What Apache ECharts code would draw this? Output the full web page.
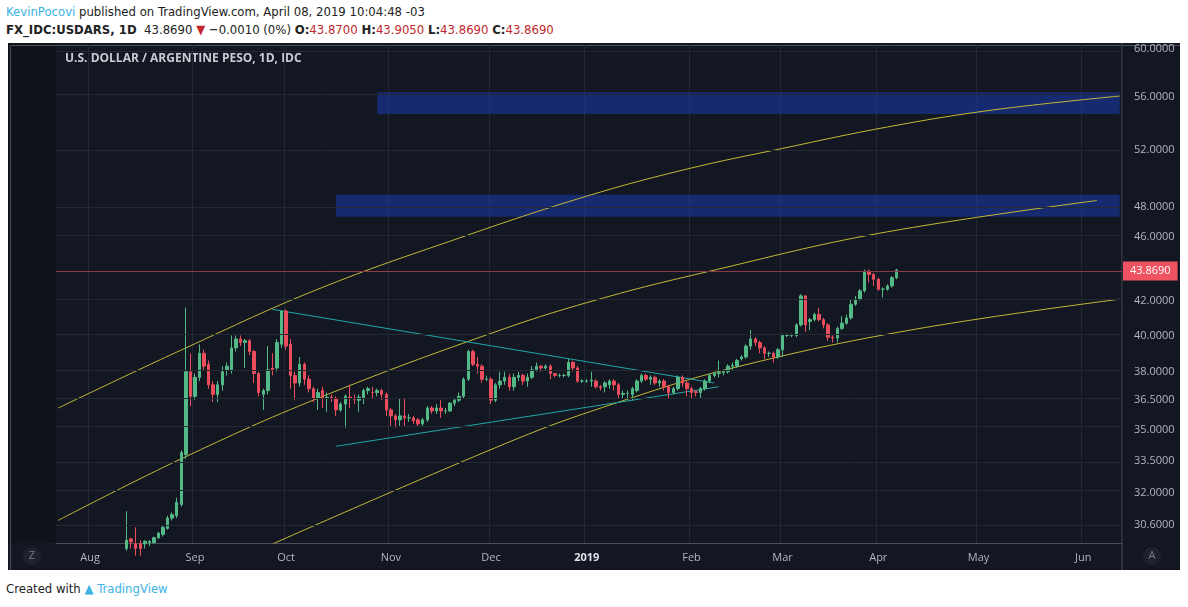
<!DOCTYPE html>
<html>
<head>
<meta charset="utf-8">
<script src="https://cdn.jsdelivr.net/npm/echarts@6/dist/echarts.min.js"></script>
<style>
  body { margin: 0; background: #fff; width: 1188px; height: 607px; overflow: hidden;
         font-family: 'Liberation Sans Narrow', 'DejaVu Sans Condensed', 'Open Sans', sans-serif; }
  #hd1 { position: absolute; left: 6px; top: 4px; font-size: 13px; color: #222; }
  #hd2 { position: absolute; left: 6px; top: 22px; font-size: 13px; color: #222; }
  #hd1 .u { color: #3bb3e4; }
  .r { color: #c0282d; }
  #chart { position: absolute; left: 8px; top: 43px; width: 1172px; height: 527px; }
  #ft { position: absolute; left: 6px; top: 581px; font-size: 13px; color: #222; }
  #ft span { color: #3bb3e4; }
</style>
</head>
<body>
<div id="hd1"><span class="u">KevinPocovi</span> published on TradingView.com, April 08, 2019 10:04:48 -03</div>
<div id="hd2"><b>FX_IDC:USDARS, 1D</b>&nbsp; 43.8690 <span class="r">&#9660;</span> &minus;0.0010 (0%) <b>O:</b><span class="r">43.8700</span> <b>H:</b><span class="r">43.9050</span> <b>L:</b><span class="r">43.8690</span> <b>C:</b><span class="r">43.8690</span></div>
<div id="chart"></div>
<div id="ft">Created with <span>&#9650; TradingView</span></div>
<script>
// weekday candles from 2018-07-23, rows: [open, close, low, high]
var candles = [
[27.3,27.4,27.2,27.6],[27.4,27.3,27.2,27.5],[27.3,27.4,27.2,27.5],[27.4,27.6,27.3,27.7],[27.6,27.5,27.4,27.7],
[27.5,27.4,27.3,27.6],[27.4,27.3,27.2,27.5],[27.3,27.4,27.2,27.6],[27.4,27.6,27.3,27.8],[27.6,28.0,27.5,28.2],
[28.0,28.3,27.9,28.5],[28.3,28.5,28.1,28.8],[28.5,28.9,28.4,29.2],[28.9,29.3,28.8,29.5],[29.3,29.6,29.1,29.8],
[29.6,29.95,29.5,31.2],[30.0,29.88,29.6,30.05],[29.8,29.6,29.3,30.5],[29.8,29.6,29.3,29.95],[29.8,29.9,29.6,29.95],
[29.85,29.9,29.7,29.95],[29.85,30.05,29.8,30.1],[30.05,30.25,30.0,30.3],[30.2,30.5,30.1,30.6],[30.45,30.9,30.4,31.0],
[30.9,31.05,30.8,31.15],[31.0,31.6,30.9,31.8],[31.5,33.9,31.4,34.0],[33.8,38.0,33.6,41.6],[38.0,36.7,36.2,39.0],
[36.7,37.7,36.5,37.9],[37.7,39.0,37.5,39.5],[39.0,38.3,38.1,39.2],[38.4,37.3,37.1,38.6],[37.3,36.8,36.4,37.5],
[36.8,37.3,36.4,37.5],[37.3,38.0,37.0,38.3],[38.1,38.3,37.8,38.5],[38.1,39.3,37.9,40.0],[39.3,39.8,39.1,40.0],
[39.8,39.6,39.4,40.0],[39.6,39.7,38.2,39.8],[39.7,39.1,38.9,39.8],[39.1,37.9,37.4,39.2],[37.9,36.9,36.7,38.0],
[36.8,37.0,36.0,37.1],[37.0,38.1,36.8,39.4],[38.2,38.1,37.8,39.0],[38.2,39.6,38.0,39.8],[39.5,41.4,39.3,41.4],
[41.4,39.4,39.2,41.5],[39.5,37.8,37.1,39.8],[37.8,37.4,36.5,38.0],[37.4,38.4,37.2,38.8],[38.4,37.6,37.3,38.5],
[37.6,37.1,36.9,37.8],[37.1,36.6,36.4,37.2],[36.6,36.9,36.0,37.1],[37.0,36.6,36.1,37.2],[36.6,36.65,35.9,36.9],
[36.65,36.6,36.4,36.8],[36.6,36.0,35.7,36.7],[36.0,36.3,35.9,36.4],[36.3,36.7,35.1,36.8],[36.65,36.6,36.1,37.3],
[36.6,36.55,36.3,36.8],[36.5,36.65,35.9,36.8],[36.6,37.0,36.3,37.1],[37.0,37.1,36.8,37.2],[36.9,36.9,36.6,37.2],
[36.9,37.0,36.7,37.1],[37.0,36.8,36.5,37.1],[36.8,36.0,35.7,36.9],[36.0,35.7,35.2,36.1],[35.7,35.5,35.1,35.8],
[35.5,35.7,35.2,36.6],[35.7,35.6,35.2,36.6],[35.6,35.6,35.4,35.8],[35.6,35.45,35.3,35.7],[35.5,35.3,35.2,35.6],
[35.3,35.5,35.2,35.6],[35.5,36.1,35.4,36.2],[36.1,35.95,35.8,36.2],[35.95,36.1,35.8,36.3],[36.1,35.95,35.6,36.5],
[35.95,35.95,35.8,36.1],[35.95,36.35,35.9,36.4],[36.35,36.5,36.2,36.6],[36.5,36.7,36.4,36.9],[36.7,37.6,36.6,37.7],
[37.6,39.1,37.5,39.2],[39.1,38.4,38.3,39.2],[38.4,38.3,37.9,38.8],[38.3,37.6,37.4,38.4],[37.6,37.6,37.5,37.8],
[37.6,36.5,36.3,37.7],[36.5,37.3,36.4,37.4],[37.3,37.5,37.1,38.0],[37.5,37.7,37.3,38.0],[37.7,37.2,37.0,37.9],
[37.2,37.7,37.0,37.9],[37.7,37.8,37.5,38.0],[37.8,37.5,37.3,37.9],[37.5,37.7,37.2,37.9],[37.7,38.1,37.6,38.3],
[38.1,38.3,38.0,38.5],[38.3,38.2,38.0,38.35],[38.2,38.3,38.1,38.4],[38.3,37.9,37.6,38.4],[37.9,37.8,37.7,37.9],
[37.8,37.8,37.7,37.9],[37.8,37.8,37.7,37.9],[37.8,38.5,37.7,38.7],[38.5,38.2,38.0,38.6],[38.2,37.5,37.4,38.3],
[37.5,37.5,37.4,37.6],[37.5,37.5,37.4,37.6],[37.5,37.55,37.2,38.0],[37.5,37.2,37.1,37.6],[37.2,37.15,37.0,37.3],
[37.2,37.4,36.9,37.5],[37.3,37.5,37.1,37.6],[37.5,37.3,37.0,37.6],[37.3,36.8,36.6,37.4],[36.8,36.85,36.6,37.0],
[36.85,36.85,36.5,37.0],[36.8,37.1,36.5,37.2],[37.0,37.5,36.9,37.6],[37.5,37.8,37.4,37.9],[37.8,37.6,37.5,37.9],
[37.6,37.7,37.3,37.8],[37.7,37.4,37.3,37.8],[37.4,37.5,37.2,37.6],[37.5,37.2,37.0,37.6],[37.2,36.9,36.6,37.3],
[36.9,37.1,36.8,37.2],[37.1,37.7,37.0,37.8],[37.7,37.4,37.2,37.8],[37.4,37.1,36.7,37.5],[37.1,36.9,36.6,37.2],
[36.95,36.9,36.7,37.0],[36.9,37.1,36.6,37.2],[37.1,37.5,37.0,37.6],[37.5,37.8,37.4,37.9],[37.8,37.9,37.7,38.0],
[37.9,37.95,37.7,38.6],[37.95,38.0,37.8,38.1],[38.0,38.3,37.9,38.4],[38.3,38.35,38.1,38.5],[38.3,38.6,38.2,38.7],
[38.7,38.8,38.6,38.9],[38.8,39.4,38.7,39.5],[39.4,39.8,39.2,40.3],[39.8,39.6,39.4,39.9],[39.6,39.3,39.0,39.7],
[39.3,39.0,38.7,39.4],[39.0,39.0,38.8,39.1],[39.0,38.8,38.5,39.1],[38.8,39.2,38.7,39.3],[39.2,40.0,38.8,40.1],
[40.0,40.0,39.9,40.1],[40.0,40.0,39.9,40.1],[40.0,40.6,39.9,40.7],[40.6,42.3,40.5,42.4],[42.3,40.6,40.2,42.3],
[40.8,40.9,40.3,41.0],[40.9,41.2,40.8,41.3],[41.2,40.9,40.8,41.6],[40.9,40.6,40.4,41.0],[40.6,39.9,39.7,40.7],
[39.9,39.85,39.6,40.0],[39.85,40.4,39.6,40.5],[40.4,40.7,40.3,41.1],[40.7,41.0,40.6,41.2],[41.0,41.8,40.9,42.1],
[41.8,42.1,41.7,42.3],[42.1,42.6,42.0,42.7],[42.6,43.8,42.5,43.9],[43.8,43.6,43.1,43.9],[43.6,43.3,42.9,43.7],
[43.3,42.7,42.6,43.4],[42.7,42.7,42.2,42.8],[42.7,42.9,42.6,43.0],[42.9,43.4,42.8,43.5],[43.4,43.87,43.3,43.95]
];
var lastPrice = 43.869;
var yTicks = [30.6, 32, 33.5, 35, 36.5, 38, 40, 42, 46, 48, 52, 56, 60];
var yGrid = [30.6, 32, 33.5, 35, 36.5, 38, 40, 42, 44, 46, 48, 52, 56, 60];
// drawn lines: [candle index, price]
var chanTop = [[0,36.1],[28,39.3],[57,42.7],[88,45.9],[116,48.7],[138,50.6],[159,52.1],[182,53.7],[205,55.0],[233,56.1]];
var chanMid = [[0,30.8],[27,33.6],[57,36.6],[97,40.3],[120,42.2],[143,43.8],[180,46.2],[228,48.4]];
var chanLow = [[46,29.7],[100,34.5],[123,36.4],[148,38.2],[187,40.3],[233,42.1]];
var triTop = [[47,41.5],[144,37.4]];
var triLow = [[61,34.2],[145,37.2]];
var zones = [[70, 233, 54.7, 56.4], [61, 233, 47.3, 48.8]];
var monthNames = ['2019','Feb','Mar','Apr','May','Jun','Jul','Aug','Sep','Oct','Nov','Dec'];

var days = [];
var d = new Date(Date.UTC(2018, 6, 23));
while (days.length < 234) {
  var wd = d.getUTCDay();
  if (wd != 0 && wd != 6) days.push(d.toISOString().slice(0, 10));
  d.setUTCDate(d.getUTCDate() + 1);
}
function isMonthStart(i) {
  return i > 0 && days[i].slice(5, 7) != days[i - 1].slice(5, 7);
}
var L = Math.log;
function toLine(pts) {
  return pts.map(function (p) { return [days[p[0]], L(p[1])]; });
}
var lnData = candles.map(function (c) { return c.map(L); });

var chart = echarts.init(document.getElementById('chart'));
var gridColor = '#242833';
var lineStyleY = { color: '#c4b836', width: 1 };

var option = {
  backgroundColor: '#131722',
  animation: false,
  grid: { left: 48, right: 58, top: 0, bottom: 27 },
  graphic: [
    { type: 'rect', left: 0, top: 0, shape: { width: 48, height: 500 }, style: { fill: '#0f1219' }, z: -1 },
    { type: 'rect', left: 0, top: 0, shape: { width: 1172, height: 527 }, style: { fill: 'none', stroke: '#4a4e59', lineWidth: 1 } },
    { type: 'line', shape: { x1: 1114, y1: 0, x2: 1114, y2: 527 }, style: { stroke: '#4a4e59', lineWidth: 1 } },
    { type: 'text', left: 57, top: 10, style: { text: 'U.S. DOLLAR / ARGENTINE PESO, 1D, IDC', fill: '#c8cbd3', font: 'bold 12px "Open Sans", sans-serif' } },
    { type: 'circle', shape: { cx: 24, cy: 513, r: 9 }, style: { fill: '#1e222d' } },
    { type: 'text', x: 24, y: 513, style: { text: 'Z', fill: '#787b86', font: '11px "Open Sans"', align: 'center', verticalAlign: 'middle' } },
    { type: 'circle', shape: { cx: 1144, cy: 513, r: 9 }, style: { fill: '#1e222d' } },
    { type: 'text', x: 1144, y: 513, style: { text: 'A', fill: '#787b86', font: '11px "Open Sans"', align: 'center', verticalAlign: 'middle' } }
  ],
  xAxis: {
    type: 'category',
    data: days,
    boundaryGap: true,
    axisLine: { lineStyle: { color: '#4a4e59' } },
    axisTick: { show: false },
    axisLabel: {
      interval: function (i) { return isMonthStart(i); },
      color: '#b2b5be', fontSize: 11, fontFamily: 'Open Sans', margin: 9,
      formatter: function (v) {
        var m = +v.slice(5, 7);
        return m == 1 ? '{b|2019}' : monthNames[m - 1];
      },
      rich: { b: { color: '#e0e3eb', fontWeight: 'bold', fontSize: 11, fontFamily: 'Open Sans' } }
    },
    splitLine: { show: true, interval: function (i) { return isMonthStart(i); }, lineStyle: { color: gridColor } }
  },
  yAxis: {
    type: 'value',
    position: 'right',
    min: L(29.83), max: L(60.34),
    splitLine: { show: false },
    axisLine: { show: false },
    axisTick: { show: false },
    axisLabel: {
      customValues: yTicks.map(L),
      color: '#b2b5be', fontSize: 11, fontFamily: 'Open Sans', margin: 12,
      formatter: function (v) { return Math.exp(v).toFixed(4); }
    }
  },
  series: [
    {
      type: 'line', data: [], silent: true,
      markLine: {
        silent: true, symbol: 'none', label: { show: false },
        lineStyle: { color: gridColor, type: 'solid', width: 1 },
        data: yGrid.map(function (v) { return { yAxis: L(v) }; })
      }
    },
    { type: 'line', data: toLine(chanTop), smooth: 0.4, symbol: 'none', lineStyle: lineStyleY, z: 3 },
    { type: 'line', data: toLine(chanMid), smooth: 0.4, symbol: 'none', lineStyle: lineStyleY, z: 3 },
    { type: 'line', data: toLine(chanLow), smooth: 0.4, symbol: 'none', lineStyle: lineStyleY, z: 3 },
    { type: 'line', data: toLine(triTop), symbol: 'none', lineStyle: { color: '#1fa6a6', width: 1 }, z: 3 },
    { type: 'line', data: toLine(triLow), symbol: 'none', lineStyle: { color: '#1fa6a6', width: 1 }, z: 3 },
    {
      type: 'candlestick',
      data: lnData,
      barWidth: 3,
      clip: true,
      z: 4,
      itemStyle: { color: '#53b987', color0: '#eb4d5c', borderColor: '#53b987', borderColor0: '#eb4d5c', borderWidth: 1 },
      markLine: {
        silent: true, symbol: 'none',
        lineStyle: { color: '#8e3a4a', type: 'solid', width: 1 },
        label: {
          position: 'end', distance: 1, formatter: lastPrice.toFixed(4),
          backgroundColor: '#ef5260', color: '#fff', padding: [4, 7], fontSize: 11, fontFamily: 'Open Sans'
        },
        data: [{ yAxis: L(lastPrice) }]
      }
    },
    {
      type: 'line', data: [], silent: true, z: 5,
      markArea: {
        silent: true,
        itemStyle: { color: 'rgba(25,55,165,0.6)' },
        data: zones.map(function (z) {
          return [{ xAxis: days[z[0]], yAxis: L(z[2]) }, { xAxis: days[z[1]], yAxis: L(z[3]) }];
        })
      }
    }
  ]
};
chart.setOption(option);
</script>
</body>
</html>
